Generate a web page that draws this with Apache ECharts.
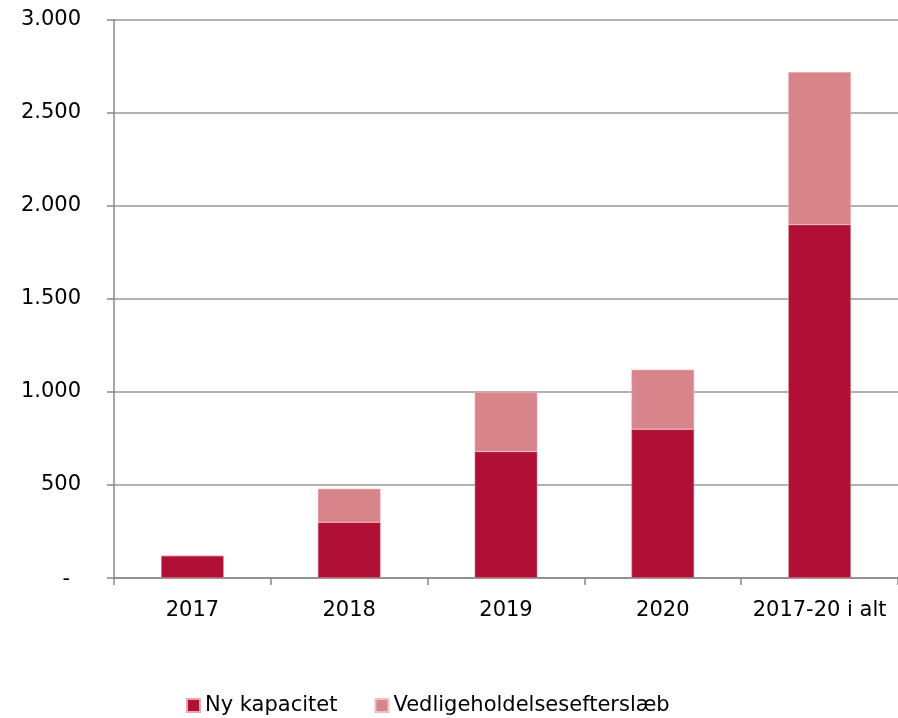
<!DOCTYPE html>
<html><head><meta charset="utf-8">
<script src="https://cdn.jsdelivr.net/npm/echarts@6/dist/echarts.min.js"></script>
<style>html,body{margin:0;padding:0;background:#fff}#c{width:898px;height:718px}</style>
</head><body><div id="c"></div>
<script>
const categories = ['2017','2018','2019','2020','2017-20 i alt'];
const nyKapacitet = [120, 300, 680, 800, 1900];
const vedligehold = [0, 180, 320, 320, 820];
const yTicks = [0, 500, 1000, 1500, 2000, 2500, 3000];

const fmt = v => v === 0 ? '{d|-}' : String(v).replace(/\B(?=(\d{3})+(?!\d))/g, '.');
const FONT = 'DejaVu Sans, Liberation Sans, Arial, sans-serif';
const chart = echarts.init(document.getElementById('c'));
chart.setOption({
  animation: false,
  textStyle: {fontFamily: FONT},
  grid: {left: 114, right: 0, top: 20, bottom: 140, containLabel: false},
  legend: {
    top: 690, left: 181, itemWidth: 13, itemHeight: 13, itemGap: 37,
    icon: 'rect',
    textStyle: {fontSize: 21, color: '#000', fontFamily: FONT},
    data: ['Ny kapacitet', 'Vedligeholdelsesefterslæb']
  },
  xAxis: {
    type: 'category', data: categories,
    axisLine: {lineStyle: {color: '#888', width: 1.5}},
    axisTick: {show: true, length: 7, lineStyle: {color: '#888', width: 1.5}},
    axisLabel: {fontSize: 21, color: '#000', margin: 22, interval: 0, hideOverlap: false, fontFamily: FONT}
  },
  yAxis: {
    type: 'value', min: yTicks[0], max: yTicks[yTicks.length-1], interval: 500,
    axisLine: {show: true, lineStyle: {color: '#888', width: 1.5}},
    axisTick: {show: true, length: 7, lineStyle: {color: '#888', width: 1.5}},
    splitLine: {lineStyle: {color: '#999', width: 1.5}},
    axisLabel: {fontSize: 21, color: '#000', margin: 33, fontFamily: FONT, formatter: fmt,
      rich: {d: {fontSize: 21, color: '#000', fontFamily: FONT, padding: [4, 11, 0, 0]}}}
  },
  series: [
    {name: 'Ny kapacitet', type: 'bar', stack: 'a', data: nyKapacitet, barWidth: '40%',
     itemStyle: {color: '#B01035', borderColor: '#e6a9b0', borderWidth: 0.5}},
    {name: 'Vedligeholdelsesefterslæb', type: 'bar', stack: 'a', data: vedligehold, barWidth: '40%',
     itemStyle: {color: '#D8848B', borderColor: '#eec0c4', borderWidth: 0.5}}
  ]
});
</script></body></html>
